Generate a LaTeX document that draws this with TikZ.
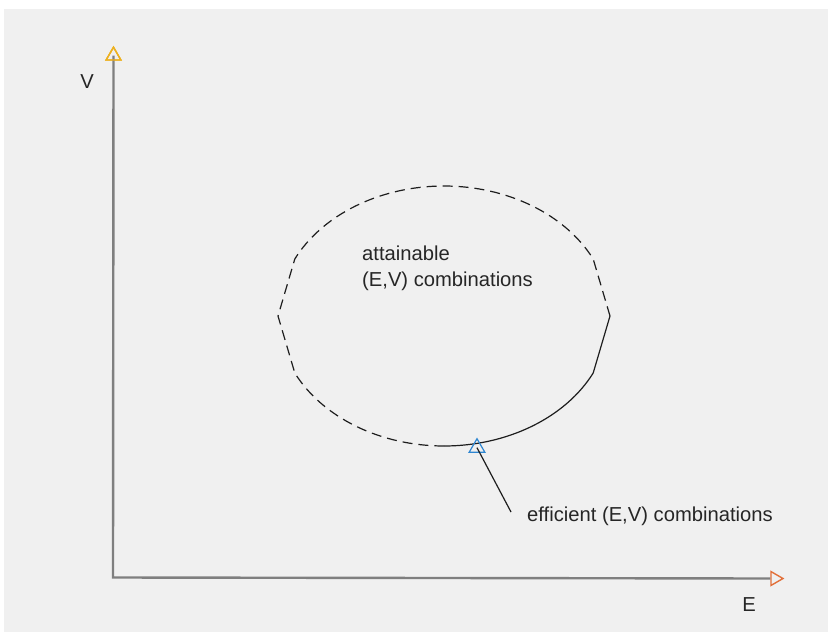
\documentclass[tikz,border=0pt]{standalone}
\usepackage{fontspec}
\setmainfont{Liberation Sans}
\usetikzlibrary{shapes.geometric}
\definecolor{bg}{HTML}{F0F0F0}
\definecolor{axisgray}{HTML}{7F7F7F}
\definecolor{txt}{HTML}{262626}
\definecolor{crv}{HTML}{1E1E1E}
\definecolor{vorange}{HTML}{EDB120}
\definecolor{eorange}{HTML}{E2703A}
\definecolor{mkblue}{HTML}{2E86D1}
\begin{document}
\begin{tikzpicture}[x=1pt,y=-1pt,
  lab/.style={font=\fontsize{20.2}{24}\selectfont, text=txt, inner sep=0pt},
  axisline/.style={draw=axisgray, line width=2.4pt},
  tri/.style={regular polygon, regular polygon sides=3, inner sep=0pt, line width=1.4pt},
  curveline/.style={draw=crv, line width=1.2pt, line join=round},
  dashline/.style={curveline, dash pattern=on 10pt off 6pt}]
\useasboundingbox (0,0) rectangle (828,632);
\fill[bg] (4,9) rectangle (828,632);
% axes
\coordinate (O) at (113,577.5);
\node[tri, draw=vorange, minimum size=17pt] (vtip) at (113.5,55.7) {};
\node[tri, draw=eorange, minimum size=16pt, shape border rotate=-90] (etip) at (775,578.5) {};
\draw[axisline] (vtip.center) -- (O) -- (etip.west);
\node[tri, draw=vorange, minimum size=17pt] at (vtip) {};
% labels
\node[lab] (vlab) at (87,81.5) {V};
\node[lab] (elab) at (749,605) {E};
% attainable set
\coordinate (rk) at (610,316);
\coordinate (lk) at (278,316);
\draw[dashline] (rk) -- plot[domain=26:154, samples=65, variable=\t] ({444+166*cos(\t)}, {316-130*sin(\t)})
  -- (lk) -- plot[domain=206:270, samples=33, variable=\t] ({444+166*cos(\t)}, {316-130*sin(\t)});
\draw[curveline] plot[domain=270:334, samples=33, variable=\t] ({444+166*cos(\t)}, {316-130*sin(\t)}) -- (rk);
\node[lab, anchor=base west] (att1) at (362,260) {attainable};
\node[lab, anchor=base west] (att2) at (362,286) {(E,V) combinations};
% efficient marker and label
\node[tri, draw=mkblue, minimum size=18pt, line width=1.2pt] (mk) at (477,447.7) {};
\coordinate (lead) at (511,512);
\draw[draw=crv, line width=1.2pt] (mk.center) -- (lead);
\node[lab, anchor=base west] (eff) at (527,521) {efficient (E,V) combinations};
\end{tikzpicture}
\end{document}
